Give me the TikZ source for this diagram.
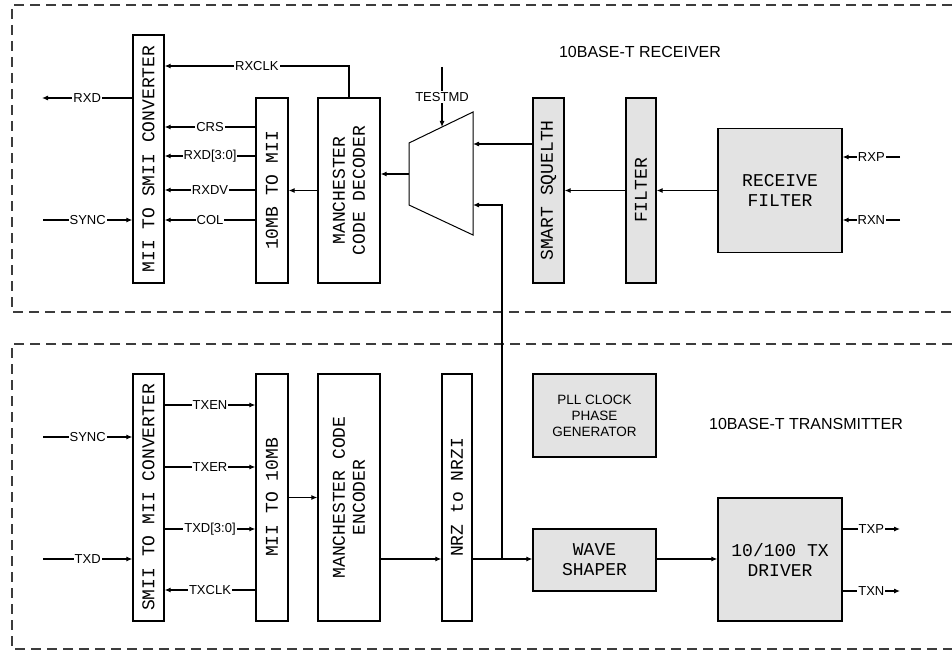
\documentclass[tikz,border=0pt]{standalone}
\usepackage{fontspec}
\setmainfont{Liberation Sans}
\setsansfont{Liberation Sans}
\newfontfamily\boxfont{Liberation Mono}
\usetikzlibrary{arrows.meta}
\definecolor{blockgray}{RGB}{227,227,227}
\definecolor{framegray}{RGB}{60,60,60}
\tikzset{
    block/.style={draw, line width=1.3pt, inner sep=0pt},
    grayblock/.style={block, fill=blockgray},
    vtext/.style={rotate=90, font=\boxfont\fontsize{18}{20}\selectfont, align=center},
    htext/.style={font=\boxfont\fontsize{18}{20}\selectfont, align=center},
    sig/.style={font=\fontsize{13}{14}\selectfont, fill=white, inner sep=1pt},
    link/.style={line width=1.1pt, -{Latex[length=6pt,width=5pt]}},
    sectionframe/.style={draw=framegray, line width=1.6pt, dash pattern=on 10pt off 6pt},
    heading/.style={font=\fontsize{16}{18}\selectfont},
}
\begin{document}
\begin{tikzpicture}[x=1pt, y=-1pt]
	\useasboundingbox (0,0) rectangle (952,650);
	% dashed sections
	\draw[sectionframe] (952,5) -- (12,5) -- (12,312) -- (952,312);
	\draw[sectionframe] (952,344) -- (12,344) -- (12,649) -- (952,649);
	\node[heading] (rxtitle) at (640,52) {10BASE-T RECEIVER};
	\node[heading] (txtitle) at (806,424) {10BASE-T TRANSMITTER};

	% receiver
	\node[block, minimum width=31pt, minimum height=248pt, label={[vtext]center:MII TO SMII CONVERTER}] (rxconv) at (148.5,159) {};
	\node[block, minimum width=32pt, minimum height=185pt, label={[vtext]center:10MB TO MII}] (rxmii) at (272,190.5) {};
	\node[block, minimum width=62pt, minimum height=185pt, label={[vtext]center:MANCHESTER\\CODE DECODER}] (rxdec) at (349,190.5) {};
	\node[grayblock, minimum width=31pt, minimum height=185pt, label={[vtext]center:SMART SQUELTH}] (squelch) at (548.5,190.5) {};
	\node[grayblock, minimum width=30pt, minimum height=185pt, label={[vtext]center:FILTER}] (filter) at (641,190.5) {};
	\node[grayblock, htext, minimum width=124pt, minimum height=124pt] (rxfilt) at (780,190.5) {RECEIVE\\FILTER};
	\draw[line width=1pt] (409,143) -- (473,112) -- (473,235) -- (409,205) -- cycle;
	\coordinate (muxout) at (409,174);
	\coordinate (muxa) at (473,144);
	\coordinate (muxb) at (473,205);
	\coordinate (muxsel) at (442,127);
	\coordinate (testmd) at (442,67);
	\coordinate (rxd) at (42,98);
	\coordinate (rxsync) at (43,220);
	\coordinate (rxp) at (900,157);
	\coordinate (rxn) at (900,220);

	\draw[link] (rxdec.north) |- node[sig, pos=0.75]{RXCLK} (rxconv.east |- 0,66);
	\draw[link] (rxconv.west |- rxd) -- node[sig]{RXD} (rxd);
	\draw[link] (rxsync) -- node[sig]{SYNC} (rxconv.west |- rxsync);
	\draw[link] (rxmii.west |- 0,127) -- node[sig]{CRS} (rxconv.east |- 0,127);
	\draw[link] (rxmii.west |- 0,156) -- node[sig]{RXD[3:0]} (rxconv.east |- 0,156);
	\draw[link] (rxmii.west |- 0,190) -- node[sig]{RXDV} (rxconv.east |- 0,190);
	\draw[link] (rxmii.west |- 0,220) -- node[sig]{COL} (rxconv.east |- 0,220);
	\draw[link] (rxdec.west) -- (rxmii.east);
	\draw[link] (muxout) -- (rxdec.east |- muxout);
	\draw[link] (testmd) -- node[sig]{TESTMD} (muxsel);
	\draw[link] (squelch.west |- muxa) -- (muxa);
	\draw[link] (filter.west) -- (squelch.east);
	\draw[link] (rxfilt.west) -- (filter.east);
	\draw[link] (rxp) -- node[sig]{RXP} (rxfilt.east |- rxp);
	\draw[link] (rxn) -- node[sig]{RXN} (rxfilt.east |- rxn);

	% transmitter
	\node[block, minimum width=31pt, minimum height=247pt, label={[vtext]center:SMII TO MII CONVERTER}] (txconv) at (148.5,497.5) {};
	\node[block, minimum width=32pt, minimum height=247pt, label={[vtext]center:MII TO 10MB}] (txmii) at (272,497.5) {};
	\node[block, minimum width=62pt, minimum height=247pt, label={[vtext]center:MANCHESTER CODE\\ENCODER}] (txenc) at (349,497.5) {};
	\node[block, minimum width=30pt, minimum height=247pt, label={[vtext]center:NRZ to NRZI}] (nrz) at (457,497.5) {};
	\node[grayblock, align=center, font=\fontsize{13.5}{16}\selectfont, minimum width=123pt, minimum height=83pt] (pll) at (594.5,415.5) {PLL CLOCK\\PHASE\\GENERATOR};
	\node[grayblock, htext, minimum width=123pt, minimum height=62pt] (shaper) at (594.5,560) {WAVE\\SHAPER};
	\node[grayblock, htext, minimum width=124pt, minimum height=123pt] (txdrv) at (780,559.5) {10/100 TX\\DRIVER};
	\coordinate (jn) at (502,559);
	\coordinate (txsync) at (43,437);
	\coordinate (txd) at (43,559);
	\coordinate (txp) at (900,529);
	\coordinate (txn) at (900,591);

	\draw[link] (txsync) -- node[sig]{SYNC} (txconv.west |- txsync);
	\draw[link] (txd) -- node[sig]{TXD} (txconv.west |- txd);
	\draw[link] (txconv.east |- 0,405) -- node[sig]{TXEN} (txmii.west |- 0,405);
	\draw[link] (txconv.east |- 0,467) -- node[sig]{TXER} (txmii.west |- 0,467);
	\draw[link] (txconv.east |- 0,529) -- node[sig]{TXD[3:0]} (txmii.west |- 0,529);
	\draw[link] (txmii.west |- 0,590) -- node[sig]{TXCLK} (txconv.east |- 0,590);
	\draw[link] (txmii.east) -- (txenc.west);
	\draw[link] (txenc.east |- jn) -- (nrz.west |- jn);
	\draw[link] (nrz.east |- jn) -- (shaper.west |- jn);
	\draw[link] (jn) |- (muxb);
	\draw[link] (shaper.east |- jn) -- (txdrv.west |- jn);
	\draw[link] (txdrv.east |- txp) -- node[sig]{TXP} (txp);
	\draw[link] (txdrv.east |- txn) -- node[sig]{TXN} (txn);
\end{tikzpicture}
\end{document}
